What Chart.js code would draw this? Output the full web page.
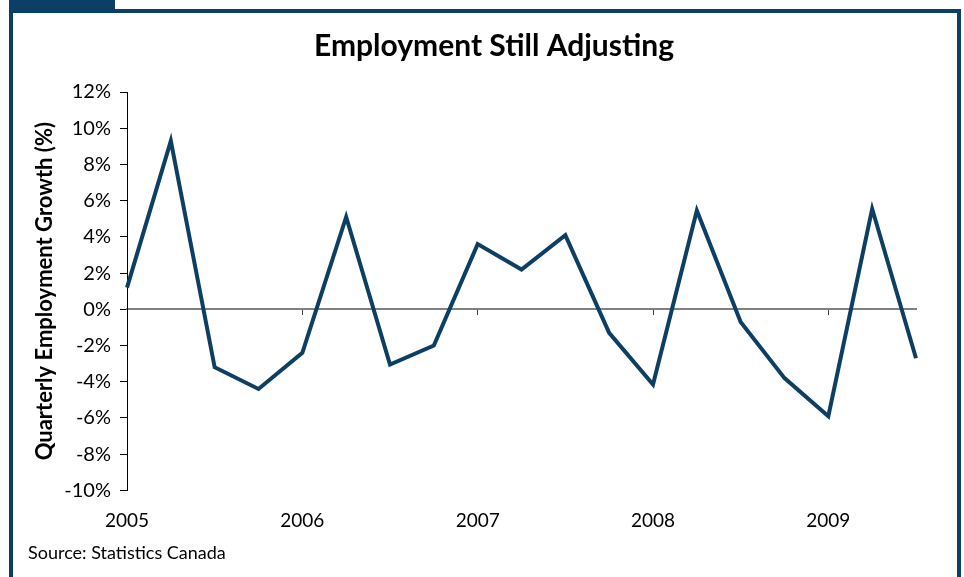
<!DOCTYPE html>
<html>
<head>
<meta charset="utf-8">
<script src="https://cdn.jsdelivr.net/npm/chart.js@4.4.1/dist/chart.umd.min.js"></script>
<style>
  html, body { margin: 0; padding: 0; background: #ffffff; }
  #wrap { position: relative; width: 964px; height: 577px; overflow: hidden; }
  #tab { position: absolute; left: 9px; top: 0; width: 106px; height: 10px; background: #0b3f66; }
  #frame { position: absolute; left: 9px; top: 9px; width: 944px; height: 600px;
           border: 4px solid #0b3f66; border-bottom: none; }
  canvas { position: absolute; left: 0; top: 0; }
</style>
</head>
<body>
<div id="wrap">
  <div id="tab"></div>
  <div id="frame"></div>
  <canvas id="c" width="964" height="577"></canvas>
</div>
<script>
// ---- data ----
const quarters = [
  '2005 Q1','2005 Q2','2005 Q3','2005 Q4',
  '2006 Q1','2006 Q2','2006 Q3','2006 Q4',
  '2007 Q1','2007 Q2','2007 Q3','2007 Q4',
  '2008 Q1','2008 Q2','2008 Q3','2008 Q4',
  '2009 Q1','2009 Q2','2009 Q3'
];
const yearLabels = ['2005','2006','2007','2008','2009'];
const growth = [
  1.2, 9.3, -3.2, -4.4,
  -2.4, 5.1, -3.05, -2.0,
  3.6, 2.2, 4.1, -1.3,
  -4.15, 5.45, -0.7, -3.8,
  -5.9, 5.55, -2.7
];
const yTicks = [-10, -8, -6, -4, -2, 0, 2, 4, 6, 8, 10, 12];

const FONT = "Lato, 'Open Sans', 'DejaVu Sans', sans-serif";

new Chart(document.getElementById('c'), {
  type: 'line',
  data: {
    labels: quarters,
    datasets: [{
      data: growth,
      borderColor: '#0d3f62',
      borderWidth: 4,
      pointRadius: 0,
      tension: 0,
      fill: false
    }]
  },
  options: {
    responsive: false,
    animation: false,
    layout: { padding: { left: 28, right: 4, top: 0, bottom: 0 } },
    plugins: {
      legend: { display: false },
      tooltip: { enabled: false },
      title: {
        display: true,
        text: 'Employment Still Adjusting',
        color: '#000000',
        font: { family: FONT, size: 30, weight: 'bold' },
        padding: { top: 28, bottom: 28 }
      },
      subtitle: {
        display: true,
        position: 'bottom',
        align: 'start',
        text: 'Source: Statistics Canada',
        color: '#000000',
        font: { family: FONT, size: 18, weight: 'normal' },
        padding: { top: 2, bottom: 13 }
      }
    },
    scales: {
      x: {
        type: 'category',
        position: 'bottom',
        offset: false,
        grid: { display: false, drawTicks: false },
        border: { display: false },
        ticks: {
          autoSkip: false,
          maxRotation: 0,
          minRotation: 0,
          padding: 19,
          color: '#000000',
          font: { family: FONT, size: 19 },
          callback: function (v, i) {
            return i % 4 === 0 ? yearLabels[i / 4] : '';
          }
        },
        afterFit: function (s) { s.height = 50; }
      },
      x0: {
        type: 'category',
        position: { y: 0 },
        offset: false,
        grid: {
          drawOnChartArea: false,
          drawTicks: true,
          tickLength: 5,
          lineWidth: 1,
          color: function (ctx) { return ctx.index % 4 === 0 ? '#404040' : 'rgba(0,0,0,0)'; }
        },
        border: { display: true, color: '#808080', width: 2 },
        ticks: { display: false, autoSkip: false }
      },
      y: {
        type: 'linear',
        position: 'left',
        min: -10,
        max: 12,
        afterBuildTicks: function (s) { s.ticks = yTicks.map(v => ({ value: v })); },
        grid: {
          drawOnChartArea: false,
          drawTicks: true,
          tickLength: 7,
          color: '#000000'
        },
        border: { display: true, color: '#000000', width: 1 },
        ticks: {
          padding: 9,
          color: '#000000',
          font: { family: FONT, size: 20 },
          callback: function (v) { return v + '%'; }
        },
        title: {
          display: true,
          text: 'Quarterly Employment Growth (%)',
          color: '#000000',
          font: { family: FONT, size: 22, weight: 'bold' },
          padding: { top: 4, bottom: 0 }
        },
        afterFit: function (s) { s.width = 99; }
      },
      y1: {
        type: 'linear',
        position: 'right',
        display: true,
        grid: { display: false },
        border: { display: false },
        ticks: { display: false },
        afterFit: function (s) { s.width = 44; }
      }
    }
  }
});
</script>
</body>
</html>
